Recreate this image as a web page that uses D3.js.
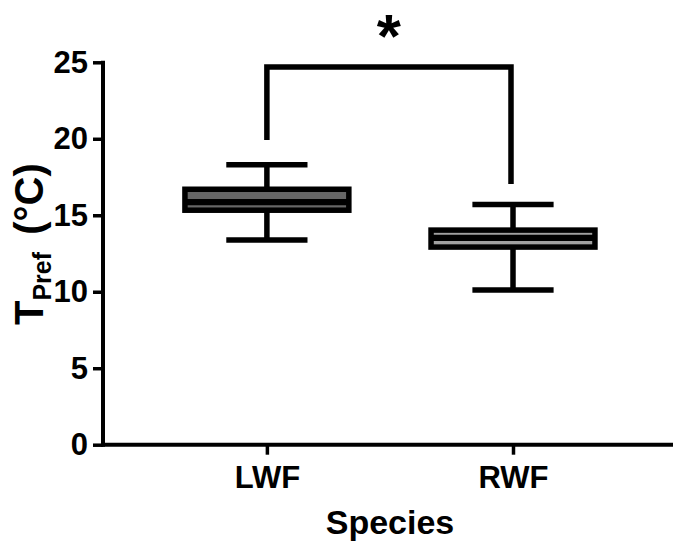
<!DOCTYPE html>
<html>
<head>
<meta charset="utf-8">
<script src="https://cdn.jsdelivr.net/npm/d3@7"></script>
<style>
  html, body { margin: 0; padding: 0; background: #fff; }
  svg { display: block; font-family: "Liberation Sans", Arial, sans-serif; font-weight: bold; }
</style>
</head>
<body>
<svg id="chart" width="673" height="541"></svg>
<script>
// ---- data ----
const categories = ["LWF", "RWF"];
const whiskerMin = [13.38, 10.11];
const q1 = [15.33, 12.92];
const median = [15.86, 13.52];
const q3 = [16.70, 14.03];
const whiskerMax = [18.31, 15.70];
const boxFills = ["#666666", "#a0a0a0"];
const yTicks = [0, 5, 10, 15, 20, 25];
const bracketLegs = [19.92, 17.04];   // bottom of each bracket leg
const bracketTop = [24.70];
const significance = ["*"];
const xTitle = ["Species"];

// ---- layout ----
const svg = d3.select("#chart");
const axisLeftX = 103, axisRightX = 673;
const y = d3.scaleLinear().domain([0, 25]).range([444.7, 62.3]);
const x = d3.scalePoint().domain(categories).range([axisLeftX, axisRightX]).padding(0.658).align(0.506);
const step = x.step();
const boxW = step * 0.666;
const capW = step * 0.33;
const SW = 5.5;
const FONT = "Liberation Sans, Arial, sans-serif";

// ---- axes ----
const yAxis = d3.axisLeft(y).tickValues(yTicks).tickSize(10).tickPadding(5).tickSizeOuter(0);
const gy = svg.append("g").attr("transform", `translate(${axisLeftX},0)`).call(yAxis);
gy.select(".domain").attr("stroke", "#000").attr("stroke-width", 4)
  .attr("d", `M0,${y(0) + 2}V${y(25) - 1.5}`);
gy.selectAll(".tick line").attr("stroke", "#000").attr("stroke-width", 3.5);
gy.selectAll(".tick text").attr("font-size", 31).attr("font-weight", "bold")
  .attr("font-family", FONT).attr("fill", "#000");

const xAxis = d3.axisBottom(x).tickSize(10).tickPadding(11).tickSizeOuter(0);
const gx = svg.append("g").attr("transform", `translate(0,${y(0)})`).call(xAxis);
gx.select(".domain").attr("stroke", "#000").attr("stroke-width", 4)
  .attr("d", `M${axisLeftX - 2},0H${axisRightX}`);
gx.selectAll(".tick line").attr("stroke", "#000").attr("stroke-width", 3.5);
gx.selectAll(".tick text").attr("font-size", 31).attr("font-weight", "bold")
  .attr("font-family", FONT).attr("fill", "#000");

// ---- boxes ----
const idx = d3.range(categories.length);
const g = svg.append("g");
// whisker stems
g.selectAll(".stem").data(idx).join("line")
  .attr("x1", i => x(categories[i])).attr("x2", i => x(categories[i]))
  .attr("y1", i => y(whiskerMin[i])).attr("y2", i => y(whiskerMax[i]))
  .attr("stroke", "#000").attr("stroke-width", SW);
// caps
g.selectAll(".capMax").data(idx).join("line")
  .attr("x1", i => x(categories[i]) - capW / 2).attr("x2", i => x(categories[i]) + capW / 2)
  .attr("y1", i => y(whiskerMax[i])).attr("y2", i => y(whiskerMax[i]))
  .attr("stroke", "#000").attr("stroke-width", SW);
g.selectAll(".capMin").data(idx).join("line")
  .attr("x1", i => x(categories[i]) - capW / 2).attr("x2", i => x(categories[i]) + capW / 2)
  .attr("y1", i => y(whiskerMin[i])).attr("y2", i => y(whiskerMin[i]))
  .attr("stroke", "#000").attr("stroke-width", SW);
// box
g.selectAll(".box").data(idx).join("rect")
  .attr("x", i => x(categories[i]) - boxW / 2).attr("width", boxW)
  .attr("y", i => y(q3[i])).attr("height", i => y(q1[i]) - y(q3[i]))
  .attr("fill", i => boxFills[i]).attr("stroke", "#000").attr("stroke-width", SW);
// median
g.selectAll(".med").data(idx).join("line")
  .attr("x1", i => x(categories[i]) - boxW / 2).attr("x2", i => x(categories[i]) + boxW / 2)
  .attr("y1", i => y(median[i])).attr("y2", i => y(median[i]))
  .attr("stroke", "#000").attr("stroke-width", 6.2);

// ---- significance bracket ----
const xl = x(categories[0]), xr = x(categories[1]) - 2;
svg.append("path")
  .attr("d", `M${xl},${y(bracketLegs[0])}V${y(bracketTop[0])}H${xr}V${y(bracketLegs[1])}`)
  .attr("fill", "none").attr("stroke", "#000").attr("stroke-width", SW)
  .attr("stroke-linejoin", "miter");
svg.append("text").attr("x", (xl + xr) / 2).attr("y", 57)
  .attr("text-anchor", "middle").attr("font-size", 62).attr("fill", "#000")
  .text(significance[0]);

// ---- titles ----
svg.append("text").attr("x", (axisLeftX + axisRightX) / 2 + 2).attr("y", 534)
  .attr("text-anchor", "middle").attr("font-size", 34).attr("fill", "#000")
  .text(xTitle[0]);

const yt = svg.append("text").attr("transform", "translate(43,325) rotate(-90)")
  .attr("text-anchor", "start").attr("fill", "#000");
yt.append("tspan").attr("font-size", 40).text("T");
yt.append("tspan").attr("font-size", 25).attr("dy", 8).text("Pref");
yt.append("tspan").attr("font-size", 40).attr("dy", -8).attr("dx", 6).text(" (°C)");
</script>
</body>
</html>
